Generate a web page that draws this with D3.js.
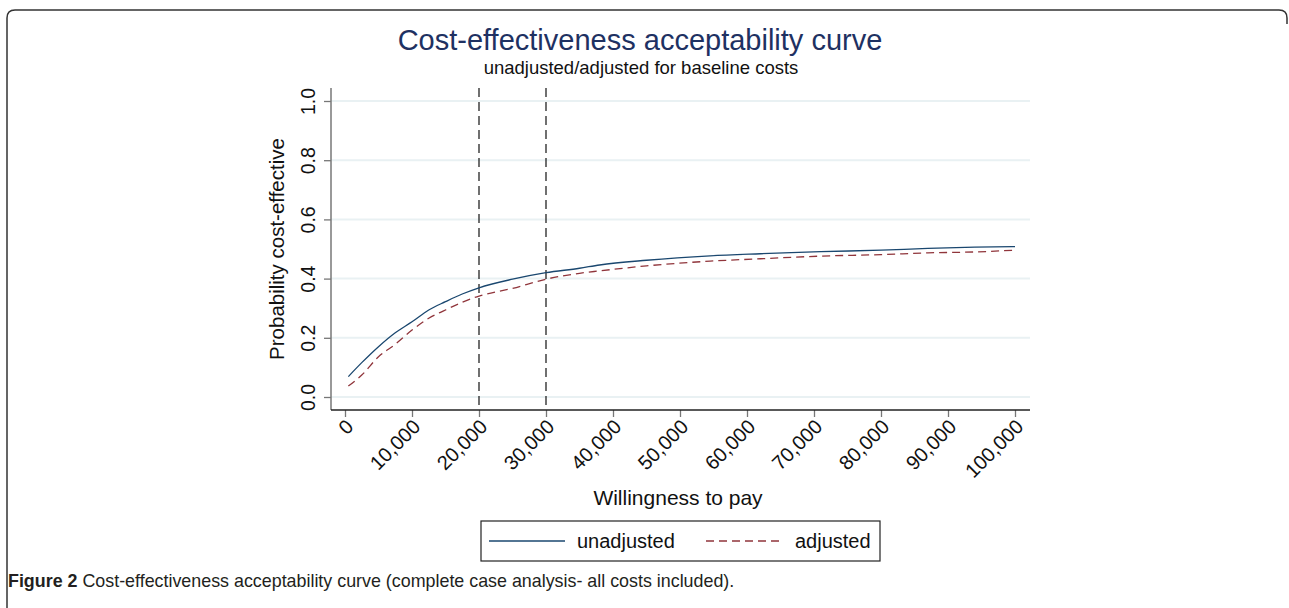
<!DOCTYPE html>
<html>
<head>
<meta charset="utf-8">
<script src="https://cdn.jsdelivr.net/npm/d3@7"></script>
<style>
  body { margin: 0; background: #fff; }
  svg { display: block; }
</style>
</head>
<body>
<svg id="chart" width="1289" height="608"></svg>
<script>
// willingness to pay points and probability
var wtp = [500, 2500, 5000, 7500, 10000, 12500, 15000, 17500, 20000, 25000, 30000,
           35000, 38000, 45000, 54500, 62000, 71000, 80000, 87000, 94000, 100000];
var unadjusted = [0.069, 0.116, 0.170, 0.217, 0.254, 0.294, 0.322, 0.348, 0.369, 0.398, 0.420,
                  0.435, 0.446, 0.462, 0.477, 0.484, 0.491, 0.496, 0.502, 0.506, 0.508];
var adjusted = [0.037, 0.074, 0.136, 0.178, 0.226, 0.266, 0.294, 0.320, 0.341, 0.367, 0.398,
                0.418, 0.426, 0.443, 0.459, 0.467, 0.476, 0.481, 0.487, 0.490, 0.496];
var xTicks = [0, 10000, 20000, 30000, 40000, 50000, 60000, 70000, 80000, 90000, 100000];
var yTicks = [0, 0.2, 0.4, 0.6, 0.8, 1.0];
var refLines = [20000, 30000];

var svg = d3.select('#chart');
var font = 'Liberation Sans, Arial, sans-serif';

// frame round the figure
svg.append('path')
  .attr('d', 'M7,608 L7,18 Q7,10 15,10 L1279,10 Q1287,10 1287,18 L1287,24')
  .attr('fill', 'none')
  .attr('stroke', '#333')
  .attr('stroke-width', 1.5);

var x = d3.scaleLinear().domain([0, 100000]).range([345, 1015]);
var y = d3.scaleLinear().domain([0, 1]).range([397, 101]);
var plotLeft = 331, plotRight = 1030, plotBottom = 410, plotTop = 88;

// gridlines
svg.append('g').selectAll('line').data(yTicks).enter().append('line')
  .attr('x1', plotLeft).attr('x2', plotRight)
  .attr('y1', function(d){ return y(d); })
  .attr('y2', function(d){ return y(d); })
  .attr('stroke', '#e9f1f3')
  .attr('stroke-width', 2);

// y axis
var yAxis = svg.append('g')
  .attr('transform', 'translate(' + plotLeft + ',0)')
  .call(d3.axisLeft(y).tickValues(yTicks).tickSize(7).tickFormat(d3.format('.1f')));
yAxis.select('.domain').remove();
yAxis.selectAll('.tick line').attr('stroke', '#777').attr('stroke-width', 1.3);
yAxis.selectAll('.tick text')
  .attr('font-family', font).attr('font-size', 19.5).attr('fill', '#111')
  .attr('text-anchor', 'middle')
  .attr('x', 0).attr('dy', 0)
  .attr('transform', 'translate(-16,0) rotate(-90)');
svg.append('line')
  .attr('x1', plotLeft).attr('x2', plotLeft)
  .attr('y1', plotTop).attr('y2', plotBottom)
  .attr('stroke', '#777').attr('stroke-width', 1.5);

// x axis
var xAxis = svg.append('g')
  .attr('transform', 'translate(0,' + plotBottom + ')')
  .call(d3.axisBottom(x).tickValues(xTicks).tickSize(7).tickFormat(d3.format(',')));
xAxis.select('.domain').remove();
xAxis.selectAll('.tick line').attr('stroke', '#777').attr('stroke-width', 1.3);
xAxis.selectAll('.tick text')
  .attr('font-family', font).attr('font-size', 20).attr('fill', '#111')
  .attr('text-anchor', 'end')
  .attr('y', 0).attr('dy', 0)
  .attr('transform', 'translate(9,18) rotate(-45)');
svg.append('line')
  .attr('x1', plotLeft).attr('x2', plotRight)
  .attr('y1', plotBottom).attr('y2', plotBottom)
  .attr('stroke', '#222').attr('stroke-width', 1.5);

// reference lines at 20,000 and 30,000
svg.append('g').selectAll('line').data(refLines).enter().append('line')
  .attr('x1', function(d){ return x(d); })
  .attr('x2', function(d){ return x(d); })
  .attr('y1', plotTop).attr('y2', plotBottom)
  .attr('stroke', '#111')
  .attr('stroke-width', 1.2)
  .attr('stroke-dasharray', '9,5');

// curves
var line = d3.line().curve(d3.curveMonotoneX)
  .x(function(d){ return x(d[0]); })
  .y(function(d){ return y(d[1]); });

svg.append('path')
  .datum(d3.zip(wtp, unadjusted))
  .attr('d', line)
  .attr('fill', 'none')
  .attr('stroke', '#1a476f')
  .attr('stroke-width', 1.3);

svg.append('path')
  .datum(d3.zip(wtp, adjusted))
  .attr('d', line)
  .attr('fill', 'none')
  .attr('stroke', '#90353b')
  .attr('stroke-width', 1.3)
  .attr('stroke-dasharray', '8,5');

// titles
svg.append('text')
  .attr('x', 640).attr('y', 50)
  .attr('text-anchor', 'middle')
  .attr('font-family', font).attr('font-size', 29)
  .attr('fill', '#1e3162')
  .text('Cost-effectiveness acceptability curve');

svg.append('text')
  .attr('x', 641).attr('y', 74)
  .attr('text-anchor', 'middle')
  .attr('font-family', font).attr('font-size', 18.5)
  .attr('fill', '#111')
  .text('unadjusted/adjusted for baseline costs');

svg.append('text')
  .attr('transform', 'translate(284,249) rotate(-90)')
  .attr('text-anchor', 'middle')
  .attr('font-family', font).attr('font-size', 20.5)
  .attr('fill', '#111')
  .text('Probability cost-effective');

svg.append('text')
  .attr('x', 678).attr('y', 505)
  .attr('text-anchor', 'middle')
  .attr('font-family', font).attr('font-size', 21)
  .attr('fill', '#111')
  .text('Willingness to pay');

// legend
var legend = svg.append('g');
legend.append('rect')
  .attr('x', 481).attr('y', 521).attr('width', 399).attr('height', 40)
  .attr('fill', '#fff').attr('stroke', '#222').attr('stroke-width', 1.2);
var legendItems = [
  { label: 'unadjusted', color: '#1a476f', dash: null, x0: 489, tx: 577 },
  { label: 'adjusted', color: '#90353b', dash: '8,5', x0: 706, tx: 795 }
];
legendItems.forEach(function(d){
  legend.append('line')
    .attr('x1', d.x0).attr('x2', d.x0 + 76)
    .attr('y1', 541).attr('y2', 541)
    .attr('stroke', d.color).attr('stroke-width', 1.4)
    .attr('stroke-dasharray', d.dash);
  legend.append('text')
    .attr('x', d.tx).attr('y', 548)
    .attr('font-family', font).attr('font-size', 20)
    .attr('fill', '#111')
    .text(d.label);
});

// caption under the figure, squeezed to look like a condensed face
var caption = svg.append('text')
  .attr('x', 0).attr('y', 0)
  .attr('font-family', font)
  .attr('font-size', 17.5)
  .attr('fill', '#231f20');
caption.append('tspan').attr('font-weight', 'bold').text('Figure 2');
caption.append('tspan').text(' Cost-effectiveness acceptability curve (complete case analysis- all costs included).');
var w = caption.node().getComputedTextLength();
caption.attr('transform', 'translate(8,587) scale(' + (727 / w) + ',1)');
</script>
</body>
</html>
